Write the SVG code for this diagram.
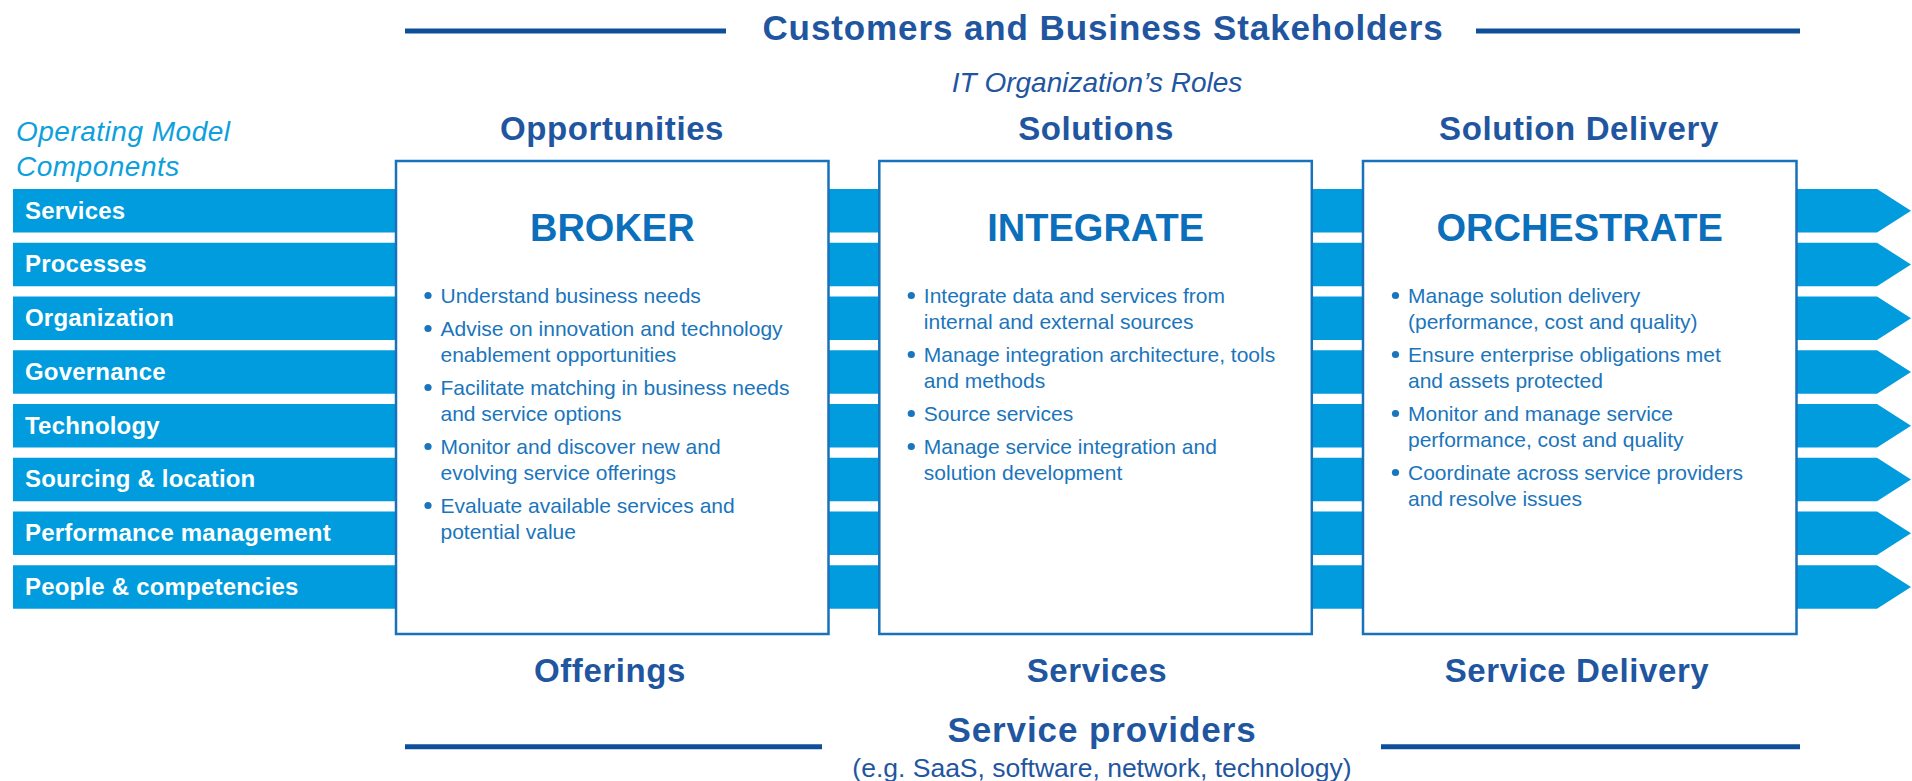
<svg xmlns="http://www.w3.org/2000/svg" width="1912" height="781" viewBox="0 0 1912 781">
<style>
.hdr{font-family:"Liberation Sans",Arial,sans-serif;font-weight:bold;fill:#1f569f;text-anchor:middle}
.big{font-size:35px;letter-spacing:0.9px}
.col{font-size:33px;letter-spacing:0.6px}
.ital{font-family:"Liberation Sans",Arial,sans-serif;font-style:italic;font-size:28px}
.bar{fill:#009cde}
.blabel{font-family:"Liberation Sans",Arial,sans-serif;font-weight:bold;font-size:24px;fill:#ffffff;letter-spacing:0.2px}
.box{fill:#ffffff;stroke:#1872bb;stroke-width:2.5}
.role{font-family:"Liberation Sans",Arial,sans-serif;font-weight:bold;font-size:38px;fill:#0b6fbb;text-anchor:middle}
.bt{font-family:"Liberation Sans",Arial,sans-serif;font-size:21px;fill:#1a75bc}
.dot{fill:#1a75bc}
.rule{stroke:#0e4f9a;stroke-width:5}
.sub{font-family:"Liberation Sans",Arial,sans-serif;font-size:26.5px;fill:#1f569f;text-anchor:middle}
</style>

<g id="header">
<line class="rule" x1="405" y1="31" x2="726" y2="31"/>
<line class="rule" x1="1476" y1="31" x2="1800" y2="31"/>
<text class="hdr big" x="1103" y="39.5">Customers and Business Stakeholders</text>
<text class="ital" x="1097" y="91.7" fill="#1f569f" text-anchor="middle">IT Organization’s Roles</text>
<text class="ital" x="16" y="140.7" fill="#0ea0dc" letter-spacing="0.5">Operating Model</text>
<text class="ital" x="16" y="175.7" fill="#0ea0dc" letter-spacing="0.5">Components</text>
<text class="hdr col" x="612" y="140">Opportunities</text>
<text class="hdr col" x="1096" y="140">Solutions</text>
<text class="hdr col" x="1579" y="140">Solution Delivery</text>
</g>

<g id="connectors">
<g id="bar-services"><polygon class="bar" points="13,189 1877,189 1911,210.75 1877,232.5 13,232.5"/><text class="blabel" x="25" y="218.5">Services</text></g>
<g id="bar-processes"><polygon class="bar" points="13,242.75 1877,242.75 1911,264.5 1877,286.25 13,286.25"/><text class="blabel" x="25" y="272.25">Processes</text></g>
<g id="bar-organization"><polygon class="bar" points="13,296.5 1877,296.5 1911,318.25 1877,340 13,340"/><text class="blabel" x="25" y="326">Organization</text></g>
<g id="bar-governance"><polygon class="bar" points="13,350.25 1877,350.25 1911,372 1877,393.75 13,393.75"/><text class="blabel" x="25" y="379.75">Governance</text></g>
<g id="bar-technology"><polygon class="bar" points="13,404 1877,404 1911,425.75 1877,447.5 13,447.5"/><text class="blabel" x="25" y="433.5">Technology</text></g>
<g id="bar-sourcing"><polygon class="bar" points="13,457.75 1877,457.75 1911,479.5 1877,501.25 13,501.25"/><text class="blabel" x="25" y="487.25">Sourcing &amp; location</text></g>
<g id="bar-performance"><polygon class="bar" points="13,511.5 1877,511.5 1911,533.25 1877,555 13,555"/><text class="blabel" x="25" y="541">Performance management</text></g>
<g id="bar-people"><polygon class="bar" points="13,565.25 1877,565.25 1911,587 1877,608.75 13,608.75"/><text class="blabel" x="25" y="594.75">People &amp; competencies</text></g>
</g>

<g id="broker">
<rect class="box" x="396" y="161" width="432.5" height="473"/>
<text class="role" x="612.3" y="240.7">BROKER</text>
<circle class="dot" cx="428" cy="295.5" r="3.6"/>
<text class="bt" x="440.5" y="303">Understand business needs</text>
<circle class="dot" cx="428" cy="328.5" r="3.6"/>
<text class="bt" x="440.5" y="336">Advise on innovation and technology</text>
<text class="bt" x="440.5" y="362">enablement opportunities</text>
<circle class="dot" cx="428" cy="387.5" r="3.6"/>
<text class="bt" x="440.5" y="395">Facilitate matching in business needs</text>
<text class="bt" x="440.5" y="421">and service options</text>
<circle class="dot" cx="428" cy="446.5" r="3.6"/>
<text class="bt" x="440.5" y="454">Monitor and discover new and</text>
<text class="bt" x="440.5" y="480">evolving service offerings</text>
<circle class="dot" cx="428" cy="505.5" r="3.6"/>
<text class="bt" x="440.5" y="513">Evaluate available services and</text>
<text class="bt" x="440.5" y="539">potential value</text>
</g>

<g id="integrate">
<rect class="box" x="879.3" y="161" width="432.5" height="473"/>
<text class="role" x="1095.7" y="240.7">INTEGRATE</text>
<circle class="dot" cx="911.3" cy="295.5" r="3.6"/>
<text class="bt" x="923.8" y="303">Integrate data and services from</text>
<text class="bt" x="923.8" y="329">internal and external sources</text>
<circle class="dot" cx="911.3" cy="354.5" r="3.6"/>
<text class="bt" x="923.8" y="362">Manage integration architecture, tools</text>
<text class="bt" x="923.8" y="388">and methods</text>
<circle class="dot" cx="911.3" cy="413.5" r="3.6"/>
<text class="bt" x="923.8" y="421">Source services</text>
<circle class="dot" cx="911.3" cy="446.5" r="3.6"/>
<text class="bt" x="923.8" y="454">Manage service integration and</text>
<text class="bt" x="923.8" y="480">solution development</text>
</g>

<g id="orchestrate">
<rect class="box" x="1363" y="161" width="433.5" height="473"/>
<text class="role" x="1579.7" y="240.7">ORCHESTRATE</text>
<circle class="dot" cx="1395.5" cy="295.5" r="3.6"/>
<text class="bt" x="1408" y="303">Manage solution delivery</text>
<text class="bt" x="1408" y="329">(performance, cost and quality)</text>
<circle class="dot" cx="1395.5" cy="354.5" r="3.6"/>
<text class="bt" x="1408" y="362">Ensure enterprise obligations met</text>
<text class="bt" x="1408" y="388">and assets protected</text>
<circle class="dot" cx="1395.5" cy="413.5" r="3.6"/>
<text class="bt" x="1408" y="421">Monitor and manage service</text>
<text class="bt" x="1408" y="447">performance, cost and quality</text>
<circle class="dot" cx="1395.5" cy="472.5" r="3.6"/>
<text class="bt" x="1408" y="480">Coordinate across service providers</text>
<text class="bt" x="1408" y="506">and resolve issues</text>
</g>

<g id="footer">
<text class="hdr col" x="610" y="681.7">Offerings</text>
<text class="hdr col" x="1097" y="681.7">Services</text>
<text class="hdr col" x="1577" y="681.7">Service Delivery</text>
<line class="rule" x1="405" y1="746.7" x2="822" y2="746.7"/>
<line class="rule" x1="1381" y1="746.7" x2="1800" y2="746.7"/>
<text class="hdr big" x="1102" y="741.7">Service providers</text>
<text class="sub" x="1102" y="776.7">(e.g. SaaS, software, network, technology)</text>
</g>
</svg>
